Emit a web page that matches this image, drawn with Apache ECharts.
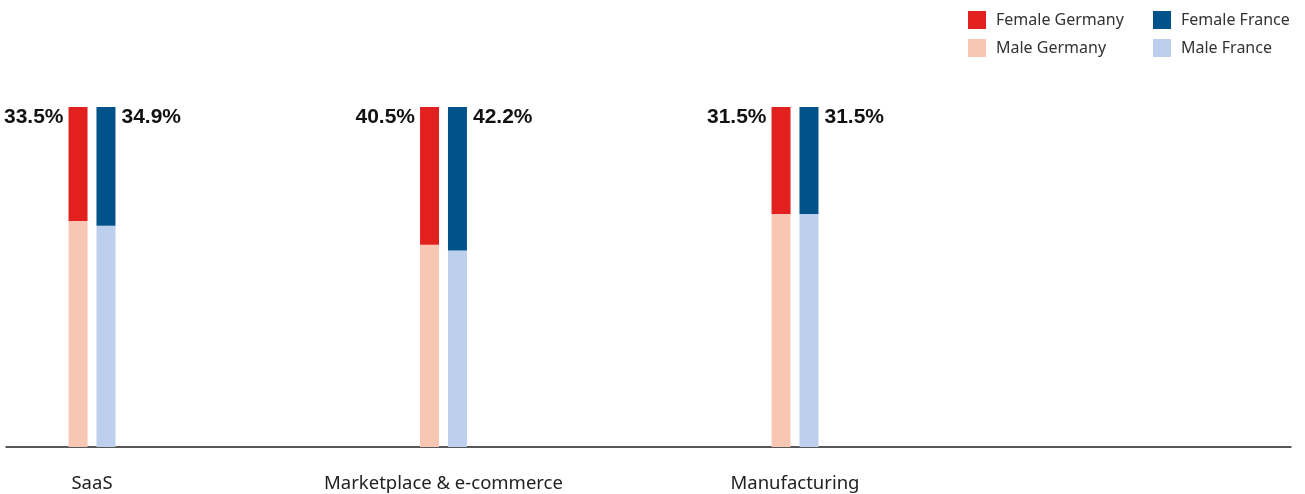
<!DOCTYPE html>
<html>
<head>
<meta charset="utf-8">
<script src="https://cdn.jsdelivr.net/npm/echarts@6/dist/echarts.min.js"></script>
<style>
  html, body { margin: 0; padding: 0; background: #fff; }
  #chart { width: 1305px; height: 494px; }
</style>
</head>
<body>
<div id="chart"></div>
<script>
// Share of women and men by sector, Germany vs. France (percent)
const categories = ['SaaS', 'Marketplace & e-commerce', 'Manufacturing'];
const femaleGermany = [33.5, 40.5, 31.5];
const femaleFrance  = [34.9, 42.2, 31.5];
const maleGermany   = [66.5, 59.5, 68.5];
const maleFrance    = [65.1, 57.8, 68.5];

const colors = {
  femaleGermany: '#E2201E',
  maleGermany: '#F8C7B4',
  femaleFrance: '#00538A',
  maleFrance: '#BCD0EE'
};

const valueLabel = (side) => ({
  show: true,
  position: side === 'left' ? [-5, 10] : ['100%', 10],
  offset: side === 'left' ? [0, 0] : [6, 0],
  align: side === 'left' ? 'right' : 'left',
  verticalAlign: 'middle',
  fontFamily: 'Liberation Sans, Arial, sans-serif',
  fontWeight: 'bold',
  fontSize: 21,
  color: '#111',
  formatter: (p) => p.value.toFixed(1) + '%'
});

const chart = echarts.init(document.getElementById('chart'));
chart.setOption({
  animation: false,
  textStyle: { fontFamily: 'Noto Sans, sans-serif' },
  grid: [
    { left: 92, right: 510, top: 107, bottom: 47 },
    { left: 6, right: 14, top: 107, bottom: 47 }
  ],
  legend: [
    {
      orient: 'vertical', left: 968, top: 11, padding: 0,
      itemWidth: 18, itemHeight: 18, itemGap: 10,
      icon: 'rect',
      textStyle: { fontSize: 16, color: '#333', padding: [0, 0, 0, 5] },
      data: ['Female Germany', 'Male Germany']
    },
    {
      orient: 'vertical', left: 1153, top: 11, padding: 0,
      itemWidth: 18, itemHeight: 18, itemGap: 10,
      icon: 'rect',
      textStyle: { fontSize: 16, color: '#333', padding: [0, 0, 0, 5] },
      data: ['Female France', 'Male France']
    }
  ],
  xAxis: [
    {
      type: 'category', gridIndex: 0, data: categories, boundaryGap: false,
      axisLine: { show: false }, axisTick: { show: false },
      axisLabel: { fontSize: 18.5, color: '#222', margin: 27 }
    },
    {
      type: 'category', gridIndex: 1, data: [''],
      axisLine: { show: true, lineStyle: { color: '#222', width: 1.5 } },
      axisTick: { show: false }, axisLabel: { show: false }
    }
  ],
  yAxis: [
    { type: 'value', gridIndex: 0, min: 0, max: 100, show: false },
    { type: 'value', gridIndex: 1, min: 0, max: 100, show: false }
  ],
  series: [
    {
      name: 'Male Germany', type: 'bar', stack: 'de', data: maleGermany,
      barWidth: 19, barGap: '47%', clip: false,
      itemStyle: { color: colors.maleGermany }
    },
    {
      name: 'Female Germany', type: 'bar', stack: 'de', data: femaleGermany,
      barWidth: 19, clip: false,
      itemStyle: { color: colors.femaleGermany },
      label: valueLabel('left')
    },
    {
      name: 'Male France', type: 'bar', stack: 'fr', data: maleFrance,
      barWidth: 19, barGap: '47%', clip: false,
      itemStyle: { color: colors.maleFrance }
    },
    {
      name: 'Female France', type: 'bar', stack: 'fr', data: femaleFrance,
      barWidth: 19, clip: false,
      itemStyle: { color: colors.femaleFrance },
      label: valueLabel('right')
    }
  ]
});
</script>
</body>
</html>
